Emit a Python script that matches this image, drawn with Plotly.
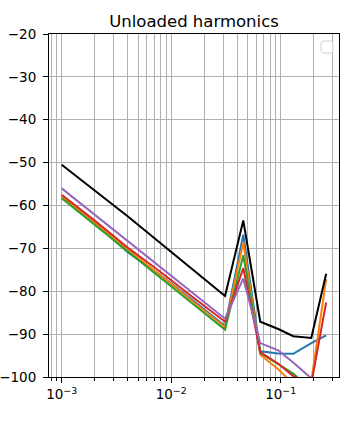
import plotly.graph_objects as go

freq = [0.001, 0.002, 0.004, 0.008, 0.016, 0.031, 0.0455, 0.065, 0.095, 0.13, 0.19, 0.26]

series_blue   = [-58.1, -64.0, -70.9, -76.3, -82.2, -88.1, -66.8, -94.0, -94.5, -94.6, -92.1, -90.3]
series_orange = [-57.9, -64.0, -70.2, -76.3, -82.5, -88.4, -68.6, -94.8, -98.2, -101.6, -101.0, -77.2]
series_green  = [-58.3, -64.5, -70.7, -76.8, -83.0, -89.0, -71.6, -94.4, -97.0, -99.2, -103.0, -105.0]
series_red    = [-57.5, -63.5, -69.8, -75.5, -81.5, -87.1, -74.6, -94.2, -96.9, -99.8, -101.6, -82.6]
series_purple = [-56.0, -62.1, -68.3, -74.4, -80.5, -86.4, -77.0, -92.1, -93.8, -96.6, -100.3, -104.0]
series_black  = [-50.5, -56.5, -62.5, -68.8, -75.1, -81.1, -63.5, -87.1, -88.8, -90.5, -90.9, -75.9]

colors = ["#1f77b4", "#ff7f0e", "#2ca02c", "#d62728", "#9467bd", "black"]
all_series = [series_blue, series_orange, series_green, series_red, series_purple, series_black]

x_major = [0.001, 0.01, 0.1]
x_major_text = ["10<sup>\u22123</sup>", "10<sup>\u22122</sup>", "10<sup>\u22121</sup>"]
x_minor = [m * d for d in [1e-4, 1e-3, 1e-2, 1e-1] for m in range(2, 10)]
y_ticks = list(range(-100, -19, 10))

fig = go.Figure()
for ys, c in zip(all_series, colors):
    fig.add_trace(go.Scatter(x=freq, y=ys, mode="lines",
                             line=dict(color=c, width=2), showlegend=False))

# plot area in pixels
L, R, T, B = 49, 339, 34, 377
W, H = 347, 427

def px(xp):
    return (xp - L) / (R - L)

def py(yp):
    return (B - yp) / (B - T)

# empty legend frame
x0, x1, y0, y1 = px(321), px(333), py(53), py(41)
rx, ry = 2.5 / (R - L), 2.5 / (B - T)
path = (f"M {x0+rx},{y0} L {x1-rx},{y0} Q {x1},{y0} {x1},{y0+ry} "
        f"L {x1},{y1-ry} Q {x1},{y1} {x1-rx},{y1} L {x0+rx},{y1} "
        f"Q {x0},{y1} {x0},{y1-ry} L {x0},{y0+ry} Q {x0},{y0} {x0+rx},{y0} Z")
fig.add_shape(type="path", path=path, xref="paper", yref="paper",
              line=dict(color="#d0d0d0", width=1), fillcolor="rgba(255,255,255,0.8)")

fig.update_layout(
    width=W, height=H,
    margin=dict(l=L, r=W - R, t=T, b=H - B, pad=0, autoexpand=False),
    paper_bgcolor="white", plot_bgcolor="white",
    font=dict(family="DejaVu Sans", size=13.5, color="black"),
    title=dict(text="Unloaded harmonics", x=(L + R) / 2 / W, xanchor="center",
               y=1 - 21 / H, yanchor="middle", yref="container",
               font=dict(size=16.5, family="DejaVu Sans")),
    showlegend=False,
)
fig.update_xaxes(
    type="log", range=[-3.116, -0.468], automargin=False,
    tickmode="array", tickvals=x_major, ticktext=x_major_text,
    ticks="outside", ticklen=5, tickwidth=1, tickcolor="black",
    showgrid=True, gridcolor="#b0b0b0", gridwidth=1,
    showline=True, linecolor="black", linewidth=1, mirror=True,
    zeroline=False,
    minor=dict(tickmode="array", tickvals=x_minor, ticks="outside", ticklen=3,
               tickwidth=1, tickcolor="black", showgrid=True,
               gridcolor="#b0b0b0", gridwidth=1),
)
fig.update_yaxes(
    range=[-100, -20], tickmode="array", tickvals=y_ticks, automargin=False,
    ticks="outside", ticklen=5, tickwidth=1, tickcolor="black",
    ticklabelstandoff=4,
    showgrid=True, gridcolor="#b0b0b0", gridwidth=1,
    showline=True, linecolor="black", linewidth=1, mirror=True,
    zeroline=False,
)

fig.write_html("out.html")
